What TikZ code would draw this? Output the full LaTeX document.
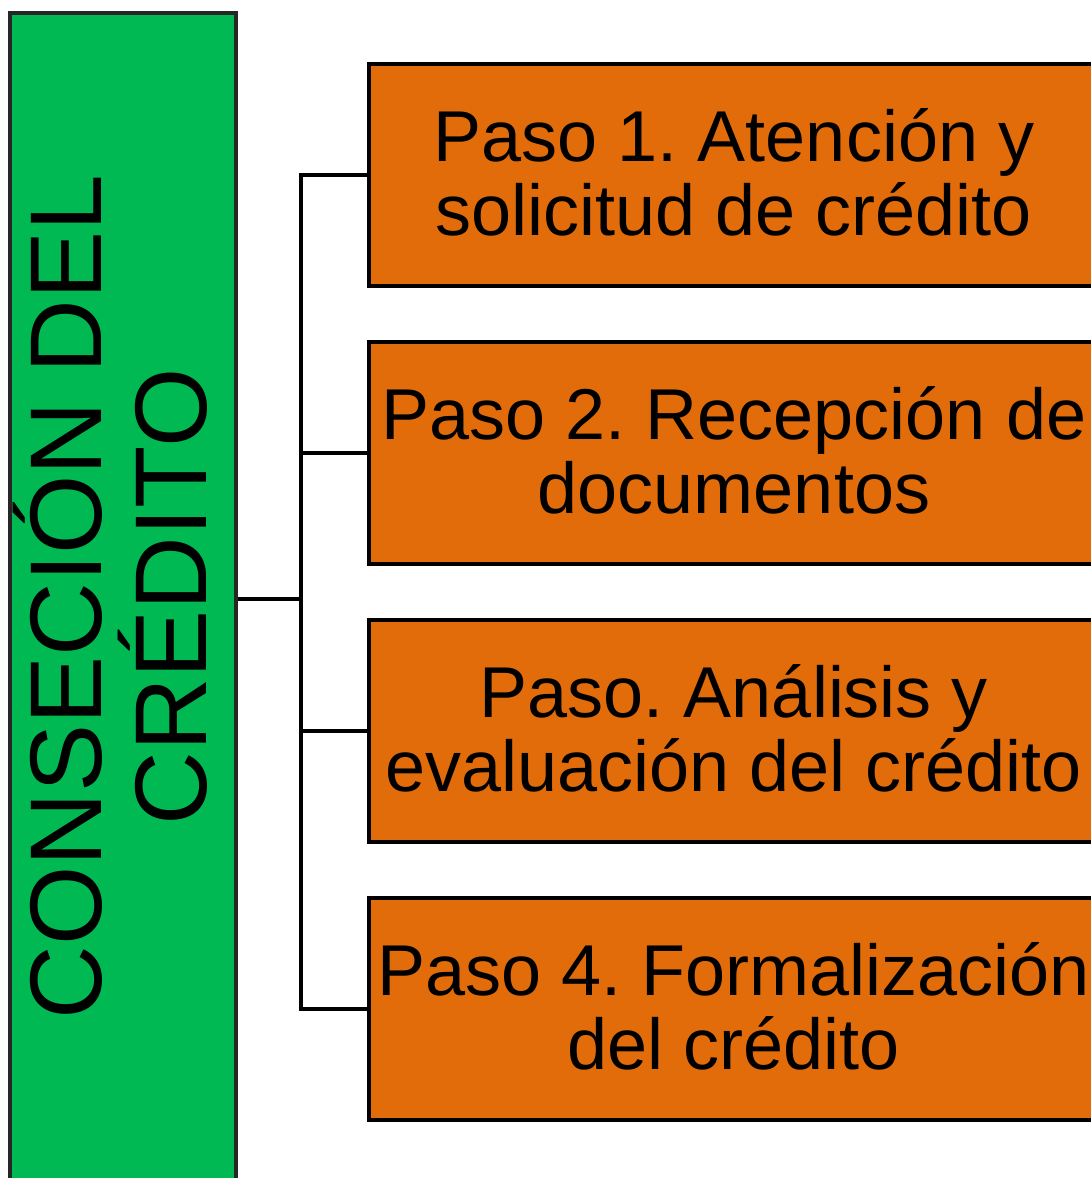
\documentclass[tikz,border=0pt]{standalone}
\usepackage{fontspec}
\setmainfont{Liberation Sans}
\frenchspacing
\definecolor{credgreen}{HTML}{00B953}
\definecolor{credorange}{HTML}{E36C0A}
\definecolor{credgray}{HTML}{262626}
\begin{document}
\begin{tikzpicture}[x=1pt,y=1pt,
  greenbox/.style={draw=credgray, line width=4pt, fill=credgreen, minimum width=226pt, minimum height=1172pt, inner sep=0pt},
  titletext/.style={rotate=90, anchor=base, inner sep=0pt, font=\fontsize{102}{105}\selectfont},
  stepbox/.style={draw=black, line width=4pt, fill=credorange, minimum width=730pt, minimum height=222pt,
    inner sep=0pt, align=center, text height=130pt, text depth=10pt, font=\fontsize{72}{74}\selectfont\frenchspacing},
  connector/.style={draw=black, line width=4pt}]
\clip (0,0) rectangle (1091,-1178);
\node[greenbox] (green) at (123,-599) {};
\node[titletext] (title1) at (101,-597) {CONSECIÓN DEL};
\node[titletext] (title2) at (206,-597) {CRÉDITO};
\node[stepbox] (b1) at (734,-175) {Paso 1. Atención y\\solicitud de crédito};
\node[stepbox] (b2) at (734,-453) {Paso 2. Recepción de\\documentos};
\node[stepbox] (b3) at (734,-731) {Paso. Análisis y\\evaluación del crédito};
\node[stepbox] (b4) at (734,-1009) {Paso 4. Formalización\\del crédito};
\coordinate (trunk) at (301,-599);
\draw[connector] (green.east) -- (trunk);
\foreach \b in {b1,b2,b3,b4} \draw[connector] (\b.west) -| (trunk);
\end{tikzpicture}
\end{document}
